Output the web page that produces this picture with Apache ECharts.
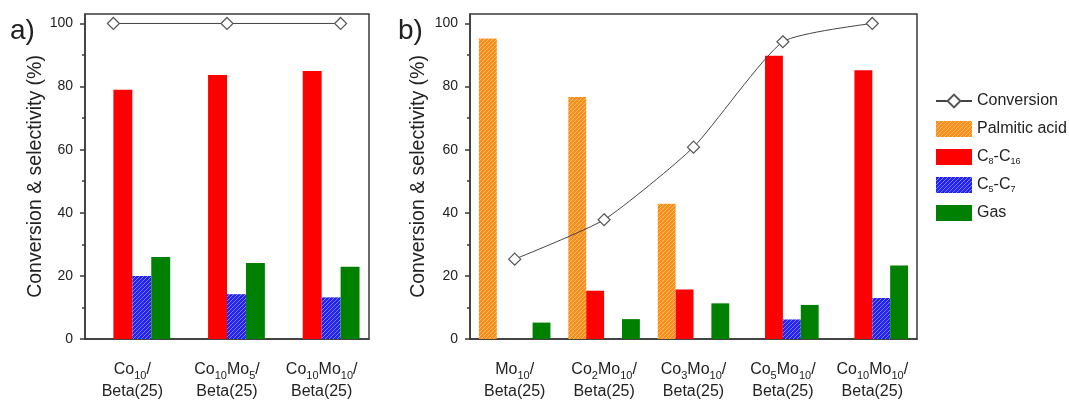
<!DOCTYPE html>
<html>
<head>
<meta charset="utf-8">
<script src="https://cdn.jsdelivr.net/npm/echarts@6/dist/echarts.min.js"></script>
<style>
  html, body { margin: 0; padding: 0; background: #fff; }
  #chart { width: 1069px; height: 400px; }
</style>
</head>
<body>
<div id="chart"></div>
<script>
// Catalysts: panel a (Mo loading on Co10) and panel b (Co loading on Mo10)
const catalystsA = ['Co10/Beta(25)', 'Co10Mo5/Beta(25)', 'Co10Mo10/Beta(25)'];
const catalystsB = ['Mo10/Beta(25)', 'Co2Mo10/Beta(25)', 'Co3Mo10/Beta(25)', 'Co5Mo10/Beta(25)', 'Co10Mo10/Beta(25)'];

// Conversion and product selectivities (%)
const conversionA = [100, 100, 100];
const palmiticA = [0, 0, 0];
const c8c16A = [79, 83.7, 84.9];
const c5c7A = [20, 14.2, 13.2];
const gasA = [26, 24.1, 22.9];

const conversionB = [25.3, 37.8, 60.8, 94.2, 100];
const palmiticB = [95.2, 76.7, 42.9, 0, 0];
const c8c16B = [0, 15.3, 15.7, 89.8, 85.2];
const c5c7B = [0, 0, 0, 6.2, 13.0];
const gasB = [5.2, 6.3, 11.3, 10.8, 23.3];

const yMajorTicks = [0, 20, 40, 60, 80, 100];
const yMinorTicks = [10, 30, 50, 70, 90];
const legendNames = ['Conversion', 'Palmitic acid', 'C8-C16', 'C5-C7', 'Gas'];

const FONT = "'Liberation Sans', Arial, sans-serif";
const INK = '#222';
const FRAME = '#3a3a3a';

// diagonal hatch fill for the palmitic acid and C5-C7 bars
function hatch(base, stripe) {
  const n = 4;
  const c = document.createElement('canvas');
  c.width = c.height = n;
  const g = c.getContext('2d');
  g.fillStyle = base;
  g.fillRect(0, 0, n, n);
  g.strokeStyle = stripe;
  g.lineWidth = 1;
  g.beginPath();
  g.moveTo(-1, n + 1); g.lineTo(n + 1, -1);
  g.moveTo(-1, 1); g.lineTo(1, -1);
  g.moveTo(n - 1, n + 1); g.lineTo(n + 1, n - 1);
  g.stroke();
  return { image: c, repeat: 'repeat' };
}

const COLORS = {
  'Palmitic acid': hatch('#F98E1A', '#FFBE70'),
  'C8-C16': '#FF0000',
  'C5-C7': hatch('#2222F2', '#8080FF'),
  'Gas': '#008000'
};

// "Co10Mo5/Beta(25)" -> rich text with subscripted loadings
function catLabel(name) {
  const parts = name.split('/');
  const head = parts[0].replace(/([A-Z][a-z]?)(\d+)/g, '{n|$1}{s|$2}');
  return head + '{n|/}\n{n|' + parts[1] + '}';
}
const catRich = {
  n: { fontSize: 16, lineHeight: 22, color: INK, fontFamily: FONT },
  s: { fontSize: 11, lineHeight: 14, verticalAlign: 'bottom', color: INK, fontFamily: FONT }
};

function legendLabel(name) {
  if (/^C\d/.test(name)) {
    return name.replace(/C(\d+)/g, '{t|C}{s|$1}').replace('}-{', '}{t|-}{');
  }
  return '{t|' + name + '}';
}

function categoryAxes(gridIndex, data) {
  return [
    {
      type: 'category', gridIndex: gridIndex, data: data, position: 'bottom',
      axisLine: { onZero: false, lineStyle: { color: FRAME, width: 1.5 } },
      axisTick: { alignWithLabel: true, length: 6, lineStyle: { color: FRAME, width: 1.5 } },
      axisLabel: { interval: 0, margin: 20, formatter: catLabel, rich: catRich },
      splitLine: { show: false }
    },
    {
      // boundary ticks between catalysts
      type: 'category', gridIndex: gridIndex, data: data, position: 'bottom',
      axisLine: { show: false, onZero: false },
      axisTick: { length: 3, lineStyle: { color: FRAME, width: 1.5 } },
      axisLabel: { show: false },
      splitLine: { show: false }
    }
  ];
}

function valueAxes(gridIndex, nameGap) {
  return [
    {
      type: 'value', gridIndex: gridIndex, position: 'left', min: 0, max: 103, interval: 20,
      name: 'Conversion & selectivity (%)', nameLocation: 'middle', nameGap: nameGap,
      nameTextStyle: { fontSize: 19.5, color: INK, fontFamily: FONT },
      axisLine: { show: true, onZero: false, lineStyle: { color: FRAME, width: 1.5 } },
      axisTick: { show: true, length: 5, customValues: yMajorTicks, lineStyle: { color: FRAME, width: 1.5 } },
      axisLabel: { customValues: yMajorTicks, fontSize: 14, margin: 12, color: INK, fontFamily: FONT },
      splitLine: { show: false }
    },
    {
      type: 'value', gridIndex: gridIndex, position: 'left', min: 0, max: 103,
      axisLine: { show: false, onZero: false },
      axisTick: { show: true, length: 3, customValues: yMinorTicks, lineStyle: { color: FRAME, width: 1.5 } },
      axisLabel: { show: false },
      splitLine: { show: false }
    }
  ];
}

function bars(xAxisIndex, yAxisIndex, values) {
  const names = ['Palmitic acid', 'C8-C16', 'C5-C7', 'Gas'];
  return names.map(function (nm, k) {
    return {
      name: nm, type: 'bar', xAxisIndex: xAxisIndex, yAxisIndex: yAxisIndex,
      data: values[k], barGap: '0%', barCategoryGap: '20%',
      itemStyle: { color: COLORS[nm] }, z: 2
    };
  });
}

// open diamonds joined by a thin dark line
function conversionLine(xAxisIndex, yAxisIndex, data, smooth) {
  return {
    name: 'Conversion', type: 'line', xAxisIndex: xAxisIndex, yAxisIndex: yAxisIndex,
    data: data, smooth: smooth, symbol: 'diamond', symbolSize: 12,
    lineStyle: { color: '#444', width: 1 },
    itemStyle: { color: '#fff', borderColor: '#555', borderWidth: 1.2 }, z: 5
  };
}

const chart = echarts.init(document.getElementById('chart'), null, { renderer: 'canvas' });

chart.setOption({
  animation: false,
  textStyle: { fontFamily: FONT, color: INK },
  title: [
    { text: 'a)', left: 5, top: 12, textStyle: { fontSize: 28, fontWeight: 'normal', color: INK, fontFamily: FONT } },
    { text: 'b)', left: 393, top: 12, textStyle: { fontSize: 28, fontWeight: 'normal', color: INK, fontFamily: FONT } }
  ],
  grid: [
    { left: 85, top: 14, width: 284, height: 325, show: true, borderColor: FRAME, borderWidth: 1.5 },
    { left: 470, top: 14, width: 447, height: 325, show: true, borderColor: FRAME, borderWidth: 1.5 }
  ],
  xAxis: [].concat(
    categoryAxes(0, catalystsA),
    [{ type: 'value', gridIndex: 0, position: 'top', min: 0.75, max: 3.25, show: false }],
    categoryAxes(1, catalystsB)
  ),
  yAxis: [].concat(valueAxes(0, 38), valueAxes(1, 41)),
  legend: {
    data: legendNames.map(function (nm) {
      return nm === 'Conversion' ? { name: nm } : { name: nm, icon: 'rect' };
    }),
    orient: 'vertical', left: 935, top: 92, padding: 0,
    itemWidth: 36, itemHeight: 16, itemGap: 10, selectedMode: false,
    formatter: legendLabel,
    textStyle: {
      fontSize: 16, lineHeight: 18, color: INK, fontFamily: FONT,
      rich: {
        t: { fontSize: 16, lineHeight: 18, color: INK, fontFamily: FONT },
        s: { fontSize: 9, lineHeight: 10, verticalAlign: 'bottom', color: INK, fontFamily: FONT }
      }
    }
  },
  series: [].concat(
    bars(0, 0, [palmiticA, c8c16A, c5c7A, gasA]),
    [conversionLine(2, 0, conversionA.map(function (v, i) { return [i + 1, v]; }), false)],
    bars(3, 2, [palmiticB, c8c16B, c5c7B, gasB]),
    [conversionLine(3, 2, conversionB, 0.18)]
  )
});
</script>
</body>
</html>
